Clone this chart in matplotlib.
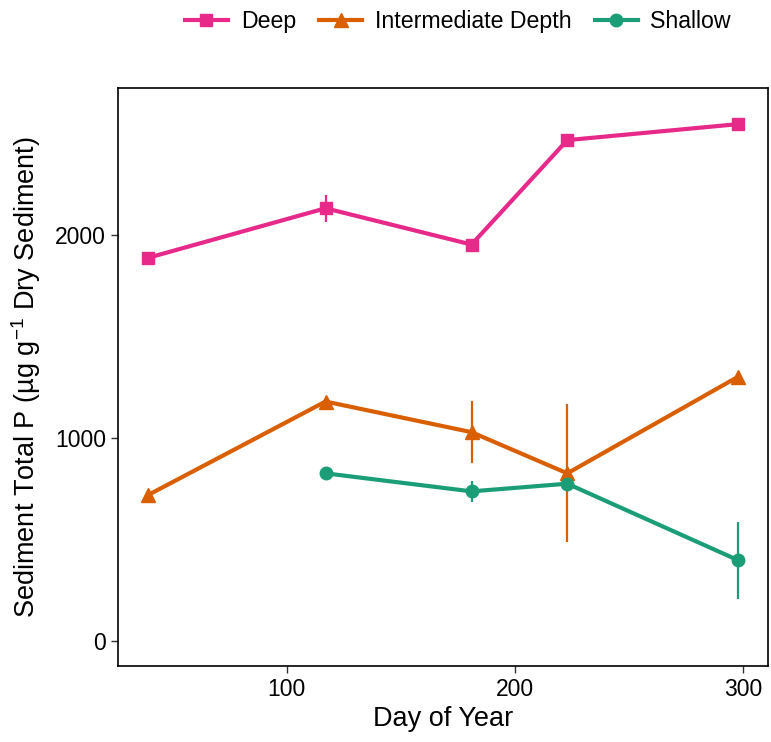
import matplotlib

matplotlib.use("Agg")
import matplotlib.pyplot as plt  # noqa: E402

plt.rcParams["font.family"] = ["Liberation Sans", "DejaVu Sans"]
plt.rcParams["mathtext.fontset"] = "custom"
plt.rcParams["mathtext.rm"] = "Liberation Sans"
plt.rcParams["mathtext.it"] = "Liberation Sans:italic"

# Sediment total P by site depth (mean +/- error)
deep_day = [39, 117, 181, 223, 298]
deep_p = [1887, 2132, 1953, 2468, 2547]
deep_err = [0, 66, 0, 0, 0]

mid_day = [39, 117, 181, 223, 298]
mid_p = [717, 1179, 1028, 825, 1302]
mid_err = [0, 0, 152, 340, 0]

shallow_day = [117, 181, 223, 298]
shallow_p = [825, 736, 774, 396]
shallow_err = [0, 53, 0, 190]

series = [
    ("Deep", deep_day, deep_p, deep_err, "#E7298A", "s", 9),
    ("Intermediate Depth", mid_day, mid_p, mid_err, "#D95F02", "^", 10),
    ("Shallow", shallow_day, shallow_p, shallow_err, "#1B9E77", "o", 9),
]

fig = plt.figure(figsize=(7.71, 7.42), dpi=100)
ax = fig.add_axes([118 / 771, 1 - 666 / 742, 650 / 771, 578 / 742])

handles = []
for name, x, y, err, color, marker, ms in series:
    ax.errorbar(x, y, yerr=err, fmt="none", ecolor=color, elinewidth=1.6, capsize=0)
    (h,) = ax.plot(x, y, color=color, lw=3.0, marker=marker, ms=ms, label=name)
    handles.append(h)

ax.set_xlim(26, 311)
ax.set_ylim(-125, 2725)
ax.set_xticks([100, 200, 300])
ax.set_yticks([0, 1000, 2000])
ax.tick_params(labelsize=16.5, length=5, width=1, color="#333333", labelcolor="black")
for sp in ax.spines.values():
    sp.set_linewidth(1.2)

ax.set_xlabel("Day of Year", fontsize=19.5, labelpad=4)
ax.set_ylabel("Sediment Total P (µg g$^{-1}$ Dry Sediment)", fontsize=19.5, labelpad=9)

fig.legend(handles=handles, loc="upper center", bbox_to_anchor=(0.594, 1.015),
           ncol=3, frameon=False, fontsize=16.7, handlelength=1.85,
           columnspacing=1.0, handletextpad=0.55)

fig.savefig("out.png", dpi=100)
